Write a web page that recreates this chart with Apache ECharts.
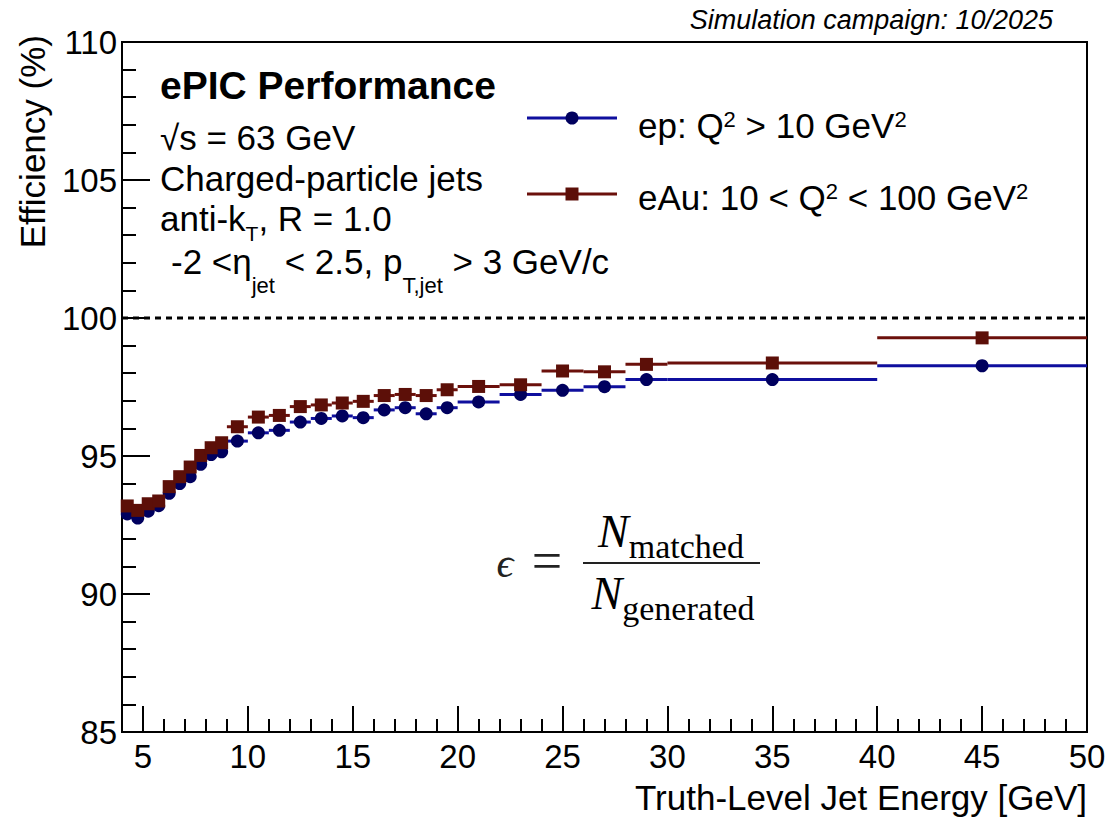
<!DOCTYPE html>
<html>
<head>
<meta charset="utf-8">
<script src="https://cdn.jsdelivr.net/npm/echarts@6/dist/echarts.min.js"></script>
<style>
html,body{margin:0;padding:0;background:#fff;}
#chart{width:1107px;height:818px;}
</style>
</head>
<body>
<div id="chart"></div>
<script>
// ---- data ----
const binLow  = [4, 4.5, 5, 5.5, 6, 6.5, 7, 7.5, 8, 8.5, 9, 10, 11, 12, 13, 14, 15, 16, 17, 18, 19, 20, 22, 24, 26, 28, 30, 40];
const binHigh = [4.5, 5, 5.5, 6, 6.5, 7, 7.5, 8, 8.5, 9, 10, 11, 12, 13, 14, 15, 16, 17, 18, 19, 20, 22, 24, 26, 28, 30, 40, 50];
const epEff   = [92.90, 92.75, 93.00, 93.20, 93.65, 94.00, 94.25, 94.70, 95.05, 95.15,
                 95.54, 95.84, 95.93, 96.23, 96.36, 96.45, 96.39, 96.67, 96.75, 96.53, 96.75,
                 96.96, 97.23, 97.38, 97.51, 97.77, 97.77, 98.27];
const eAuEff  = [93.19, 93.03, 93.27, 93.37, 93.89, 94.25, 94.60, 95.02, 95.30, 95.48,
                 96.06, 96.41, 96.47, 96.79, 96.85, 96.92, 96.98, 97.19, 97.23, 97.19, 97.40,
                 97.52, 97.58, 98.08, 98.05, 98.32, 98.37, 99.28];
const xMajorTicks = [5, 10, 15, 20, 25, 30, 35, 40, 45, 50];
const referenceLevel = [100];

// ---- styles ----
const SANS = '"Liberation Sans", Arial, Helvetica, sans-serif';
const SERIF = '"Liberation Serif", "DejaVu Serif", "Times New Roman", serif';
const EP_LINE = '#0f0f9e', EP_MARK = '#00005e';
const AU_LINE = '#6b100b', AU_MARK = '#5c0f08';

function toRows(vals) {
  return binLow.map((lo, i) => [lo, binHigh[i], vals[i]]);
}

function makeRender(kind, lineColor, markColor) {
  return function (params, api) {
    const lo = api.value(0), hi = api.value(1), v = api.value(2);
    const p1 = api.coord([lo, v]);
    const p2 = api.coord([hi, v]);
    const pc = api.coord([(lo + hi) / 2, v]);
    const children = [{
      type: 'line',
      shape: { x1: p1[0], y1: p1[1], x2: p2[0], y2: p2[1] },
      style: { stroke: lineColor, lineWidth: 3 }
    }];
    if (kind === 'circle') {
      children.push({ type: 'circle', shape: { cx: pc[0], cy: pc[1], r: 6.5 }, style: { fill: markColor } });
    } else {
      children.push({ type: 'rect', shape: { x: pc[0] - 6.5, y: pc[1] - 6.5, width: 13, height: 13 }, style: { fill: markColor } });
    }
    return { type: 'group', children: children };
  };
}

const chart = echarts.init(document.getElementById('chart'), null, { renderer: 'svg' });

const subRich = {
  m:   { fontSize: 35, fontFamily: SANS, color: '#000', lineHeight: 40, verticalAlign: 'top' },
  sub: { fontSize: 22, fontFamily: SANS, color: '#000', lineHeight: 52, verticalAlign: 'bottom' },
  subk:{ fontSize: 21, fontFamily: SANS, color: '#000', lineHeight: 43, verticalAlign: 'bottom' },
  sup: { fontSize: 22, fontFamily: SANS, color: '#000', lineHeight: 24, verticalAlign: 'top' }
};
const fracRich = {
  N: { fontSize: 46, fontFamily: SERIF, fontStyle: 'italic', color: '#222', lineHeight: 46, verticalAlign: 'top' },
  s: { fontSize: 34, fontFamily: SERIF, color: '#222', lineHeight: 55, verticalAlign: 'bottom' }
};

const option = {
  animation: false,
  backgroundColor: '#fff',
  grid: { left: 122, right: 20, top: 42, bottom: 86, show: true, borderColor: '#000', borderWidth: 2, backgroundColor: 'transparent', outerBoundsMode: 'none' },
  xAxis: [{
    type: 'value', min: 4, max: 50, position: 'bottom',
    axisLine: { show: true, onZero: false, lineStyle: { color: '#000', width: 2 } },
    axisTick: { show: true, inside: true, length: 26, customValues: xMajorTicks, lineStyle: { color: '#000', width: 2 } },
    axisLabel: { show: true, customValues: xMajorTicks, color: '#000', fontSize: 33, fontFamily: SANS, margin: 8 },
    splitLine: { show: false }
  }, {
    type: 'value', min: 4, max: 50, interval: 1, position: 'bottom', offset: 0,
    axisLine: { show: false },
    axisTick: { show: true, inside: true, length: 13, lineStyle: { color: '#000', width: 2 } },
    axisLabel: { show: false },
    splitLine: { show: false }
  }],
  yAxis: {
    type: 'value', min: 85, max: 110, interval: 5,
    axisLine: { show: true, onZero: false, lineStyle: { color: '#000', width: 2 } },
    axisTick: { show: true, inside: true, length: 28, lineStyle: { color: '#000', width: 2 } },
    minorTick: { show: true, splitNumber: 5, length: 14, lineStyle: { color: '#000', width: 2 } },
    axisLabel: { color: '#000', fontSize: 33, fontFamily: SANS, margin: 5 },
    splitLine: { show: false }
  },
  series: [
    {
      name: 'reference', type: 'line', xAxisIndex: 0,
      data: [[4, referenceLevel[0]], [50, referenceLevel[0]]],
      symbol: 'none', silent: true,
      lineStyle: { color: '#000', width: 3, type: [6, 5] }
    },
    {
      name: 'ep: Q² > 10 GeV²', type: 'custom', xAxisIndex: 0,
      data: toRows(epEff), encode: { x: [0, 1], y: 2 },
      renderItem: makeRender('circle', EP_LINE, EP_MARK)
    },
    {
      name: 'eAu: 10 < Q² < 100 GeV²', type: 'custom', xAxisIndex: 0,
      data: toRows(eAuEff), encode: { x: [0, 1], y: 2 },
      renderItem: makeRender('square', AU_LINE, AU_MARK)
    }
  ],
  graphic: [
    // axis titles
    { type: 'text', x: 32, y: 35, rotation: Math.PI / 2,
      style: { text: 'Efficiency (%)', fontSize: 35, fontFamily: SANS, fill: '#000', align: 'right', verticalAlign: 'middle' } },
    { type: 'text', x: 1087, y: 797,
      style: { text: 'Truth-Level Jet Energy [GeV]', fontSize: 35, fontFamily: SANS, fill: '#000', align: 'right', verticalAlign: 'middle' } },
    // campaign
    { type: 'text', x: 1053, y: 20,
      style: { text: 'Simulation campaign: 10/2025', fontSize: 27, fontStyle: 'italic', fontFamily: SANS, fill: '#000', align: 'right', verticalAlign: 'middle' } },
    // info block
    { type: 'text', x: 160, y: 85,
      style: { text: 'ePIC Performance', fontSize: 39, fontWeight: 'bold', fontFamily: SANS, fill: '#000', align: 'left', verticalAlign: 'middle' } },
    { type: 'text', x: 160, y: 137,
      style: { text: '√s = 63 GeV', fontSize: 35, fontFamily: SANS, fill: '#000', align: 'left', verticalAlign: 'middle' } },
    { type: 'text', x: 160, y: 178,
      style: { text: 'Charged-particle jets', fontSize: 35, fontFamily: SANS, fill: '#000', align: 'left', verticalAlign: 'middle' } },
    { type: 'text', x: 160, y: 201,
      style: { text: '{m|anti-k}{subk|T}{m|, R = 1.0}', rich: subRich, align: 'left', verticalAlign: 'top' } },
    { type: 'text', x: 171, y: 244,
      style: { text: '{m|-2 <η}{sub|jet}{m| < 2.5, p}{sub|T,jet}{m| > 3 GeV/c}', rich: subRich, align: 'left', verticalAlign: 'top' } },
    // legend
    { type: 'line', shape: { x1: 527, y1: 118, x2: 617, y2: 118 }, style: { stroke: EP_LINE, lineWidth: 3 } },
    { type: 'circle', shape: { cx: 572, cy: 118, r: 6.5 }, style: { fill: EP_MARK } },
    { type: 'text', x: 638, y: 108,
      style: { text: '{m|ep: Q}{sup|2}{m| > 10 GeV}{sup|2}', rich: subRich, align: 'left', verticalAlign: 'top' } },
    { type: 'line', shape: { x1: 527, y1: 194, x2: 617, y2: 194 }, style: { stroke: AU_LINE, lineWidth: 3 } },
    { type: 'rect', shape: { x: 565.5, y: 187.5, width: 13, height: 13 }, style: { fill: AU_MARK } },
    { type: 'text', x: 638, y: 180,
      style: { text: '{m|eAu: 10 < Q}{sup|2}{m| < 100 GeV}{sup|2}', rich: subRich, align: 'left', verticalAlign: 'top' } },
    // formula
    { type: 'text', x: 505, y: 563,
      style: { text: 'ϵ', fontSize: 42, fontStyle: 'italic', fontFamily: SERIF, fill: '#222', align: 'center', verticalAlign: 'middle' } },
    { type: 'text', x: 547, y: 561,
      style: { text: '=', fontSize: 54, fontFamily: SERIF, fill: '#222', align: 'center', verticalAlign: 'middle' } },
    { type: 'line', shape: { x1: 583, y1: 563, x2: 760, y2: 563 }, style: { stroke: '#222', lineWidth: 2 } },
    { type: 'text', x: 671, y: 508,
      style: { text: '{N|N}{s|matched}', rich: fracRich, align: 'center', verticalAlign: 'top' } },
    { type: 'text', x: 673, y: 570,
      style: { text: '{N|N}{s|generated}', rich: fracRich, align: 'center', verticalAlign: 'top' } }
  ]
};

chart.setOption(option);
</script>
</body>
</html>
